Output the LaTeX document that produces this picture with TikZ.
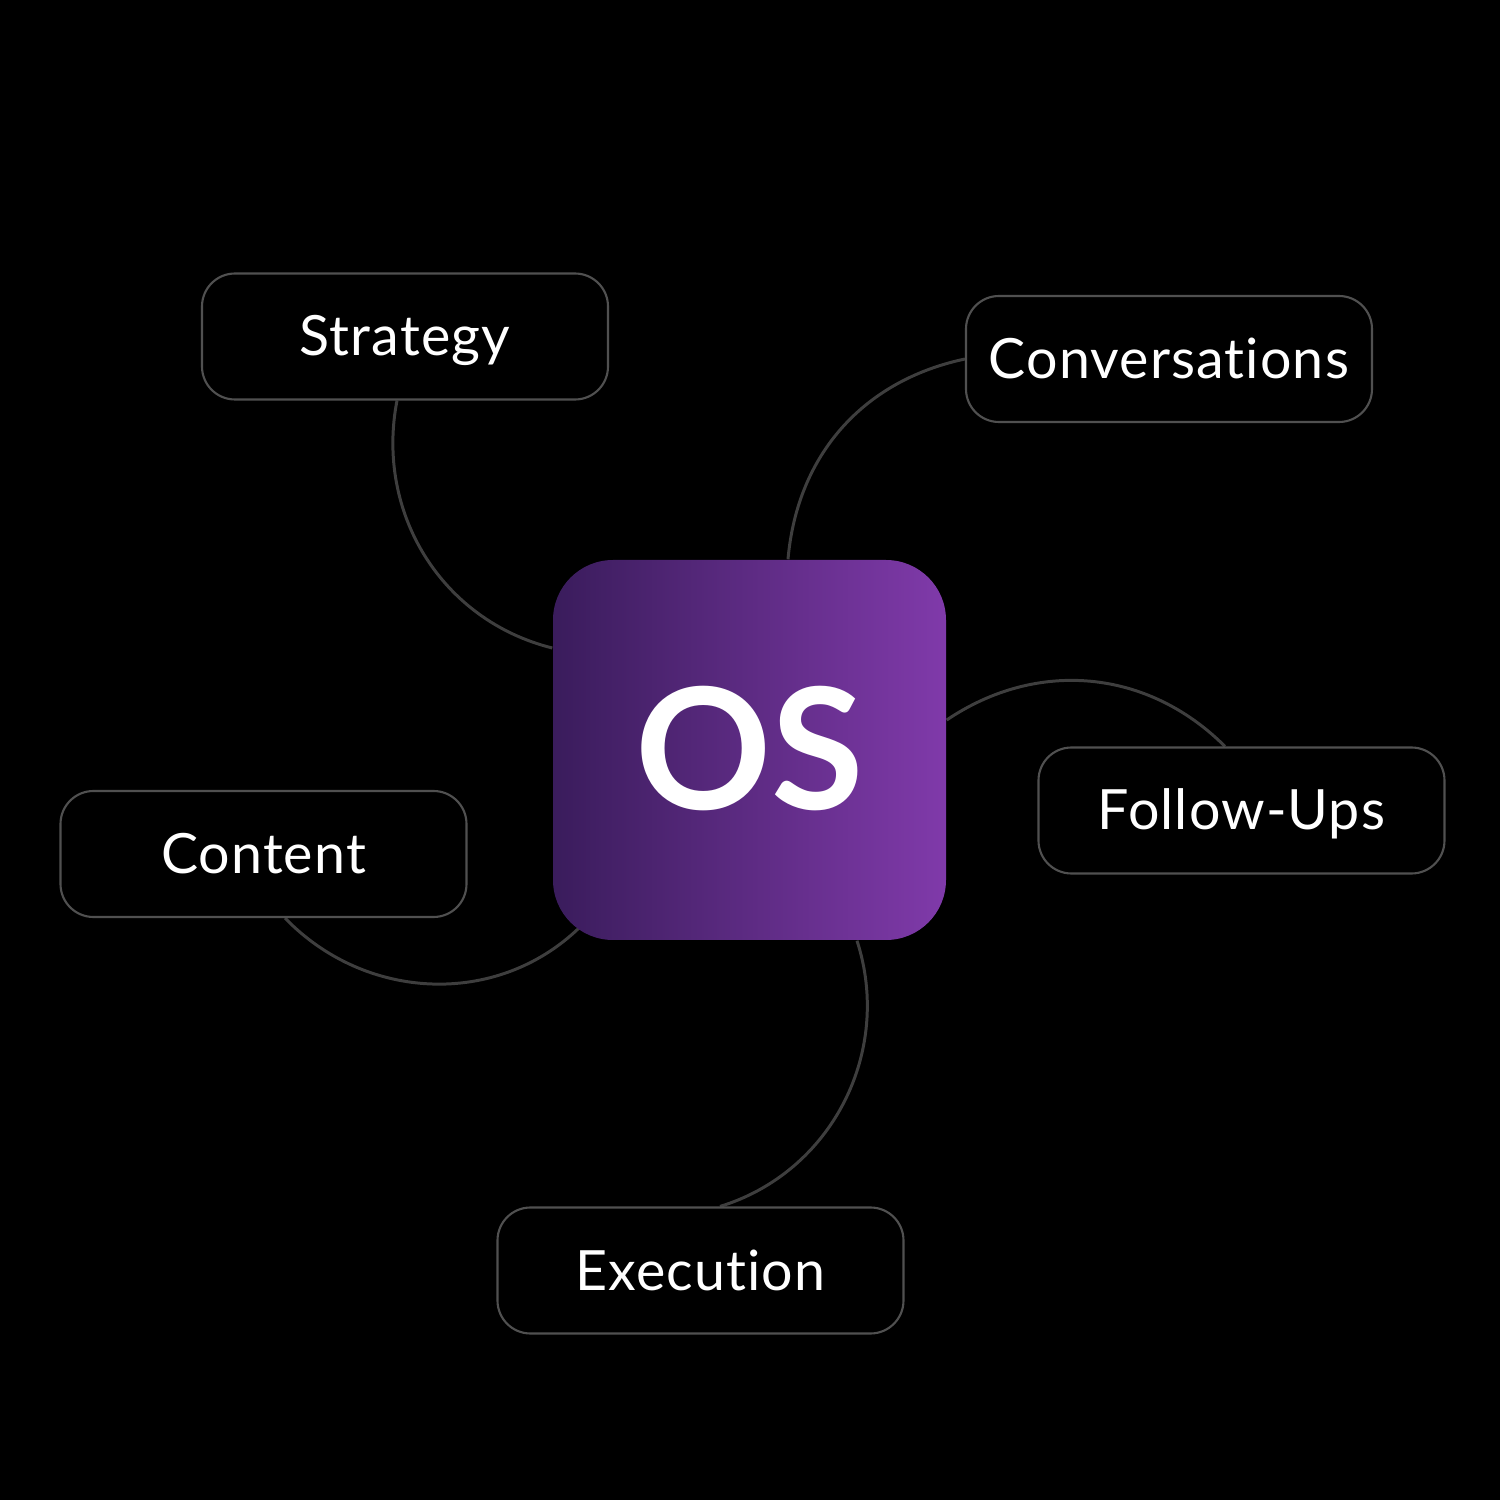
\documentclass[tikz,border=0pt]{standalone}
\usepackage{fontspec}
\setmainfont{Lato}[Ligatures={NoCommon,NoRequired,NoContextual}]
\newfontfamily\labelfont{Lato}[LetterSpace=2,Ligatures={NoCommon,NoRequired,NoContextual}]
\usetikzlibrary{positioning}
\pgfdeclarelayer{background}
\pgfsetlayers{background,main}
\definecolor{osleft}{RGB}{58,28,92}
\definecolor{osright}{RGB}{128,58,170}
\definecolor{boxline}{RGB}{80,80,80}
\definecolor{linkline}{RGB}{62,62,62}

\begin{document}
\begin{tikzpicture}[
	topic/.style={draw=boxline, line width=0.6pt, fill=black, rounded corners=0.33cm,
		minimum width=4.06cm, minimum height=1.26cm, inner sep=0pt, text=white,
		text height=0.39cm, text depth=0pt, font=\labelfont\fontsize{15.8pt}{18pt}\selectfont},
	hub/.style={rounded corners=0.6cm, left color=osleft, right color=osright,
		minimum width=3.93cm, minimum height=3.8cm, inner sep=0pt, text=white,
		text height=1.2cm, text depth=0pt, font=\fontsize{48pt}{52pt}\selectfont\bfseries},
	link/.style={draw=linkline, line width=0.85pt}
]
	%%%%% START %%%%%
	
	\useasboundingbox (0, 0) rectangle (15, 15);
	
	\node[hub] (os) at (7.495, 7.5) {OS};
	
	\node[topic] (strategy) at (4.05, 11.635) {Strategy};
	\node[topic] (conversations) at (11.69, 11.41) {Conversations};
	\node[topic] (followups) at (12.415, 6.895) {Follow-Ups};
	\node[topic] (content) at (2.635, 6.46) {Content};
	\node[topic] (execution) at (7.005, 2.295) {Execution};
	
	\begin{pgfonlayer}{background}
		\fill[black] (0, 0) rectangle (15, 15);
		
		\draw[link] ([xshift=-0.08cm]strategy.south) to[out=259, in=166] ([yshift=1.02cm]os.west);
		\draw[link] (conversations.west) to[out=192, in=85] ([xshift=0.385cm]os.north);
		\draw[link] ([yshift=0.3cm]os.east) to[out=34, in=135] ([xshift=-0.165cm]followups.north);
		\draw[link] ([xshift=0.215cm]content.south) to[out=314, in=224] ([shift={(0.27, 0.13)}]os.south west);
		\draw[link] ([xshift=1.075cm]os.south) to[out=288, in=17] ([xshift=0.195cm]execution.north);
	\end{pgfonlayer}
	
	%%%%% END %%%%%
\end{tikzpicture}
\end{document}
